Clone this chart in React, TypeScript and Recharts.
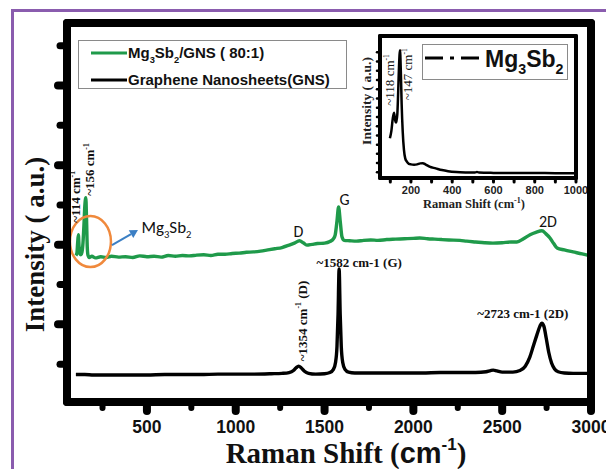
import React from "react";
import {
  LineChart,
  Line,
  XAxis,
  YAxis,
  ReferenceDot,
  Legend,
  Label,
} from "recharts";

const SERIF = '"Liberation Serif", "Times New Roman", serif';
const SANS = '"Liberation Sans", Arial, sans-serif';
const SOFT = 'Carlito, Lato, "Open Sans", sans-serif';
const GREEN = "#1f9a4a";

// [Raman shift (cm-1), intensity (a.u.)]
const compositeSpectrum: [number, number][] = [
  [100, 36.8], [106, 37.5], [110, 40], [114, 42], [118, 39], [123, 37.2], [128, 37.0],
  [134, 37.6], [140, 40], [146, 45], [150, 49], [156, 51.3], [160, 46], [164, 39],
  [168, 36.9], [175, 36.3], [190, 36.6], [210, 36.2], [240, 36.5], [270, 36.3],
  [300, 36.6], [340, 36.4], [380, 36.5], [420, 36.3], [460, 36.7], [500, 36.5],
  [540, 36.6], [580, 36.4], [620, 36.8], [660, 36.6], [700, 36.8], [740, 36.7],
  [780, 36.9], [820, 37.0], [860, 36.8], [900, 37.1], [940, 37.1], [980, 37.3],
  [1020, 37.4], [1060, 37.6], [1100, 37.7], [1140, 37.9], [1180, 38.2], [1220, 38.5],
  [1260, 38.8], [1300, 39.4], [1330, 39.9], [1359, 40.5], [1380, 40.0], [1400, 39.4],
  [1430, 39.6], [1460, 39.8], [1500, 39.9], [1530, 40.3], [1550, 41.0], [1560, 42],
  [1570, 45.5], [1579, 49.0], [1588, 45.5], [1598, 41.5], [1610, 40.6], [1641, 40.5],
  [1680, 40.4], [1720, 40.6], [1760, 40.7], [1800, 40.6], [1850, 40.8], [1900, 40.9],
  [1950, 41.0], [2000, 41.1], [2036, 41.2], [2080, 41.0], [2120, 40.9], [2160, 40.8],
  [2200, 40.7], [2262, 40.6], [2300, 40.4], [2350, 40.2], [2400, 40.0], [2448, 39.9],
  [2500, 40.0], [2550, 40.2], [2583, 40.2], [2620, 41.0], [2657, 42.0], [2690, 42.6],
  [2724, 43.0], [2745, 42.3], [2769, 41.2], [2790, 39.8], [2809, 38.7], [2850, 38.2],
  [2899, 37.7], [2950, 37.2], [2995, 36.7],
];

const gnsSpectrum: [number, number][] = [
  [100, 6.9], [150, 6.9], [200, 6.8], [300, 6.8], [400, 6.8], [500, 6.8], [600, 6.9],
  [700, 6.9], [800, 6.9], [900, 7.0], [1000, 7.0], [1100, 7.0], [1200, 7.1], [1260, 7.2],
  [1300, 7.4], [1325, 7.9], [1340, 8.6], [1354, 9.0], [1368, 8.6], [1385, 7.8],
  [1410, 7.2], [1450, 7.0], [1500, 7.1], [1530, 7.4], [1550, 8.2], [1562, 10],
  [1570, 14], [1576, 22], [1582, 33.4], [1588, 22], [1594, 14], [1602, 10], [1615, 8.2],
  [1635, 7.5], [1670, 7.3], [1750, 7.3], [1850, 7.3], [1950, 7.3], [2050, 7.3],
  [2150, 7.4], [2250, 7.4], [2350, 7.4], [2410, 7.6], [2435, 7.9], [2450, 8.0],
  [2470, 7.8], [2500, 7.5], [2560, 7.5], [2600, 7.9], [2630, 9.0], [2655, 11.2],
  [2675, 14.0], [2695, 16.8], [2712, 19.0], [2723, 19.8], [2735, 19.0], [2748, 16.0],
  [2762, 12.5], [2778, 9.8], [2795, 8.3], [2815, 7.6], [2850, 7.3], [2900, 7.2],
  [2950, 7.2], [3000, 7.2],
];

// inset: bare Mg3Sb2
const mg3sb2Spectrum: [number, number][] = [
  [98, 28], [105, 33], [112, 42], [118, 46], [123, 41], [128, 39], [134, 45], [138, 60],
  [142, 78], [147, 90], [151, 75], [155, 52], [160, 33], [166, 20], [172, 14],
  [180, 11.5], [190, 10], [200, 9.6], [215, 9.4], [230, 9.6], [245, 10.3], [258, 10.4],
  [270, 9.6], [290, 8.0], [320, 6.8], [350, 5.6], [380, 4.8], [420, 4.2], [470, 3.9],
  [510, 3.8], [520, 4.3], [530, 3.8], [600, 3.6], [700, 3.5], [800, 3.5], [900, 3.4],
  [1000, 3.4],
];

const legendOrder = ["Mg3Sb2/GNS ( 80:1)", "Graphene Nanosheets(GNS)"];

const mainTicksX = [250, 500, 750, 1000, 1250, 1500, 1750, 2000, 2250, 2500, 2750, 3000];
const mainTicksY = [9.5, 19.5, 29.5, 39.5, 49.5, 59.5, 69.5, 79.5, 89.5];
const insetTicksX = [100, 200, 300, 400, 500, 600, 700, 800, 900, 1000];
const insetTicksY = [4, 10.5, 17, 23.5, 30, 36.5, 43, 49.5, 56, 62.5, 69, 75.5, 82, 88.5];

const MAIN_X: [number, number] = [50, 3000];
const MAIN_Y: [number, number] = [0, 95.2];
const INSET_X: [number, number] = [50, 1000];
const INSET_Y: [number, number] = [0, 100];

const W = 606;
const H = 469;
const MAIN_MARGIN = { top: 23, right: 15, bottom: 27, left: 47 };
const MAIN_AXIS = { yWidth: 20, xHeight: 40 };
const INSET_MARGIN = { top: 36, right: 30, bottom: 261, left: 370 };
const INSET_AXIS = { yWidth: 10, xHeight: 30 };

const rows = (pts: [number, number][]) => pts.map(([shift, intensity]) => ({ shift, intensity }));

// digits that follow a letter become subscripts (Mg3Sb2)
function chem(text: string, size: number) {
  const parts: { t: string; sub: boolean }[] = [];
  for (let i = 0; i < text.length; i++) {
    const ch = text[i];
    const sub = /[0-9]/.test(ch) && i > 0 && /[A-Za-z]/.test(text[i - 1]);
    const last = parts[parts.length - 1];
    if (last && last.sub === sub) last.t += ch;
    else parts.push({ t: ch, sub });
  }
  let cur = 0;
  return parts.map((p, i) => {
    const target = p.sub ? size * 0.3 : 0;
    const dy = target - cur;
    cur = target;
    return (
      <tspan key={i} dy={dy} fontSize={p.sub ? size * 0.62 : size}>
        {p.t}
      </tspan>
    );
  });
}

// "~114 cm⁻¹ ..." with a raised -1
function wn(before: string, after: string, size: number) {
  return [
    <tspan key="a">{before}cm</tspan>,
    <tspan key="b" dy={-size * 0.4} fontSize={size * 0.6}>-1</tspan>,
    <tspan key="c" dy={size * 0.4}>{after}</tspan>,
  ];
}

function note(
  content: React.ReactNode,
  dx: number,
  dy: number,
  o: { rotate?: boolean; anchor?: "start" | "middle" | "end"; font?: string; size?: number; weight?: number } = {}
) {
  return (p: any) => (
    <text
      transform={`translate(${p.cx + dx},${p.cy + dy})${o.rotate ? " rotate(-90)" : ""}`}
      textAnchor={o.anchor || "start"}
      fontFamily={o.font || SERIF}
      fontSize={o.size || 13}
      fontWeight={o.weight ?? 700}
      fill="#111"
    >
      {content}
    </text>
  );
}

// heavy box round a plotting area as four filled strips, from the chart's own margins
function PlotBox({ m, a, w }: { m: typeof MAIN_MARGIN; a: typeof MAIN_AXIS; w: number }) {
  const left = m.left + a.yWidth;
  const top = m.top;
  const right = W - m.right;
  const bottom = H - m.bottom - a.xHeight;
  const strip = (l: number, t: number, ww: number, hh: number) => ({
    position: "absolute" as const,
    left: l,
    top: t,
    width: ww,
    height: hh,
    background: "#000",
    borderRadius: w / 2,
    pointerEvents: "none" as const,
  });
  return (
    <>
      <div style={strip(left - w / 2, top - w / 2, right - left + w, w)} />
      <div style={strip(left - w / 2, bottom - w / 2, right - left + w, w)} />
      <div style={strip(left - w / 2, top - w / 2, w, bottom - top + w)} />
      <div style={strip(right - w / 2, top - w / 2, w, bottom - top + w)} />
    </>
  );
}

const MainXTick = (props: any) => {
  const { x, y, payload } = props;
  const major = payload.value % 500 === 0;
  return (
    <g>
      <line x1={x} y1={y} x2={x} y2={y + (major ? 9 : 6)} stroke="#000" strokeWidth={major ? 8 : 6} strokeLinecap="round" />
      {major && (
        <text x={x} y={y + 31} textAnchor="middle" fontFamily={SANS} fontWeight={700} fontSize={17.5} fill="#111">
          {payload.value}
        </text>
      )}
    </g>
  );
};

const MainYTick = (props: any) => {
  const { x, y, index } = props;
  const major = index % 2 === 1;
  return (
    <line x1={x} y1={y} x2={x - (major ? 9 : 7)} y2={y} stroke="#000" strokeWidth={major ? 8 : 7} strokeLinecap="round" />
  );
};

const InsetXTick = (props: any) => {
  const { x, y, payload } = props;
  const labelled = payload.value % 200 === 0;
  return (
    <g>
      <line x1={x} y1={y} x2={x} y2={y + 4} stroke="#000" strokeWidth={3} strokeLinecap="round" />
      {labelled && (
        <text x={x} y={y + 16} textAnchor="middle" fontFamily={SANS} fontWeight={700} fontSize={11} fill="#222">
          {payload.value}
        </text>
      )}
    </g>
  );
};

const InsetYTick = (props: any) => {
  const { x, y } = props;
  return <line x1={x} y1={y} x2={x - 3} y2={y} stroke="#000" strokeWidth={2.5} strokeLinecap="round" />;
};

const MainLegend = (props: any) => {
  const items = (props.payload || [])
    .filter((it: any) => legendOrder.includes(it.value))
    .sort((a: any, b: any) => legendOrder.indexOf(a.value) - legendOrder.indexOf(b.value));
  return (
    <svg width={270} height={50} style={{ display: "block" }}>
      <rect x={0.5} y={0.5} width={268} height={48} fill="#fff" stroke="#8a8a8a" strokeWidth={1} />
      {items.map((it: any, i: number) => (
        <g key={i}>
          <line x1={13} x2={49} y1={13 + i * 27} y2={13 + i * 27} stroke={it.color} strokeWidth={3} />
          <text x={50} y={18 + i * 27} fontFamily={SANS} fontWeight={700} fontSize={15} fill="#111">
            {chem(String(it.value), 15)}
          </text>
        </g>
      ))}
    </svg>
  );
};

const InsetLegend = (props: any) => {
  const it = (props.payload || []).find((e: any) => e.value === "Mg3Sb2");
  if (!it) return null;
  return (
    <svg width={147} height={37} style={{ display: "block" }}>
      <rect x={0.5} y={0.5} width={145} height={35} fill="#fff" stroke="#8a8a8a" strokeWidth={1} />
      <line x1={3} x2={58} y1={14} y2={14} stroke="#000" strokeWidth={3} strokeDasharray="18 7 4 7" />
      <text x={63} y={23} fontFamily={SANS} fontWeight={700} fontSize={23} fill="#111">
        {chem(String(it.value), 23)}
      </text>
    </svg>
  );
};

const MainXTitle = (p: any) => {
  const vb = p.viewBox;
  return (
    <text x={vb.x + vb.width / 2 + 17} y={vb.y + 61} textAnchor="middle" fontFamily={SERIF} fontWeight={700} fontSize={29} fill="#111">
      Raman Shift (<tspan fontFamily={SANS}>cm</tspan>
      <tspan dy={-13} fontSize={17} fontFamily={SANS}>-1</tspan>
      <tspan dy={13}>)</tspan>
    </text>
  );
};

const MainYTitle = (p: any) => {
  const vb = p.viewBox;
  const cy = vb.y + vb.height / 2 + 32;
  return (
    <text transform={`translate(44,${cy}) rotate(-90)`} textAnchor="middle" fontFamily={SERIF} fontWeight={700} fontSize={27} fill="#111">
      Intensity ( a.u.)
    </text>
  );
};

const InsetXTitle = (p: any) => {
  const vb = p.viewBox;
  return (
    <text x={vb.x + vb.width / 2 - 4} y={vb.y + 30} textAnchor="middle" fontFamily={SERIF} fontWeight={700} fontSize={12.5} fill="#222">
      Raman Shift (cm<tspan dy={-5} fontSize={8}>-1</tspan>
      <tspan dy={5}>)</tspan>
    </text>
  );
};

const InsetYTitle = (p: any) => {
  const vb = p.viewBox;
  const cy = vb.y + vb.height / 2 - 6;
  return (
    <text transform={`translate(371,${cy}) rotate(-90)`} textAnchor="middle" fontFamily={SERIF} fontWeight={700} fontSize={13.5} fill="#222">
      Intensity ( a.u.)
    </text>
  );
};

// orange ring round the Mg3Sb2 peaks, arrow and label
const PeakCallout = (p: any) => {
  const { cx, cy } = p;
  const sx = cx + 21.5, sy = cy + 3.5;
  const tx = cx + 47.5, ty = cy - 11.5;
  const len = Math.hypot(tx - sx, ty - sy);
  const ux = (tx - sx) / len, uy = (ty - sy) / len;
  const bx = tx - ux * 8, by = ty - uy * 8;
  const nx = -uy, ny = ux;
  return (
    <g>
      <ellipse cx={cx} cy={cy} rx={20.5} ry={25.5} fill="none" stroke="#f0893c" strokeWidth={2.5} />
      <line x1={sx} y1={sy} x2={bx} y2={by} stroke="#3b7fc4" strokeWidth={2} />
      <polygon points={`${tx},${ty} ${bx + nx * 4.5},${by + ny * 4.5} ${bx - nx * 4.5},${by - ny * 4.5}`} fill="#3b7fc4" />
      <text x={cx + 51} y={cy - 8.5} fontFamily={SOFT} fontSize={17} fill="#111">
        {chem("Mg3Sb2", 17)}
      </text>
    </g>
  );
};

export default function App() {
  return (
    <div style={{ position: "absolute", left: 0, top: 0, width: W, height: H, overflow: "hidden", background: "#fff" }}>
      <div
        style={{
          position: "absolute",
          left: 11,
          top: 9,
          width: 700,
          height: 600,
          borderTop: "3px solid #8a5cae",
          borderLeft: "3px solid #8a5cae",
        }}
      />
      <div style={{ position: "absolute", left: 0, top: 0 }}>
        <LineChart width={W} height={H} margin={MAIN_MARGIN}>
          <XAxis
            dataKey="shift"
            type="number"
            domain={MAIN_X}
            ticks={mainTicksX}
            interval={0}
            height={MAIN_AXIS.xHeight}
            axisLine={false}
            tickLine={false}
            tickSize={0}
            tickMargin={0}
            tick={<MainXTick />}
          >
            <Label content={<MainXTitle />} />
          </XAxis>
          <YAxis
            type="number"
            domain={MAIN_Y}
            ticks={mainTicksY}
            interval={0}
            width={MAIN_AXIS.yWidth}
            axisLine={false}
            tickLine={false}
            tickSize={0}
            tickMargin={0}
            tick={<MainYTick />}
          >
            <Label content={<MainYTitle />} />
          </YAxis>
          <Line
            data={rows(compositeSpectrum)}
            dataKey="intensity"
            name="Mg3Sb2/GNS ( 80:1)"
            type="monotone"
            stroke={GREEN}
            strokeWidth={3.4}
            dot={false}
            isAnimationActive={false}
          />
          <Line
            data={rows(gnsSpectrum)}
            dataKey="intensity"
            name="Graphene Nanosheets(GNS)"
            type="monotone"
            stroke="#000"
            strokeWidth={3.4}
            dot={false}
            isAnimationActive={false}
          />
          <ReferenceDot x={182} y={40.3} r={0} ifOverflow="visible" shape={PeakCallout} />
          <ReferenceDot x={114} y={42} r={0} ifOverflow="visible" shape={note(wn("~114 ", "", 13), 2, -12, { rotate: true })} />
          <ReferenceDot x={156} y={51.3} r={0} ifOverflow="visible" shape={note(wn("~156 ", "", 13), 8, -2, { rotate: true })} />
          <ReferenceDot x={1359} y={40.5} r={0} ifOverflow="visible" shape={note("D", -1, -4, { anchor: "middle", font: SOFT, size: 16, weight: 400 })} />
          <ReferenceDot x={1579} y={49} r={0} ifOverflow="visible" shape={note("G", 6, -2, { anchor: "middle", font: SOFT, size: 16, weight: 400 })} />
          <ReferenceDot x={2724} y={43} r={0} ifOverflow="visible" shape={note("2D", 6, -4, { anchor: "middle", font: SOFT, size: 16, weight: 400 })} />
          <ReferenceDot x={1354} y={9} r={0} ifOverflow="visible" shape={note(wn("~1354 ", " (D)", 13), 8, -5, { rotate: true })} />
          <ReferenceDot x={1582} y={33.4} r={0} ifOverflow="visible" shape={note("~1582 cm-1 (G)", 20, -2, { anchor: "middle" })} />
          <ReferenceDot x={2723} y={19.8} r={0} ifOverflow="visible" shape={note("~2723 cm-1 (2D)", -19, -5, { anchor: "middle" })} />
          <Legend
            layout="horizontal"
            verticalAlign="middle"
            align="center"
            content={<MainLegend />}
            wrapperStyle={{ left: 78, top: 40, width: 270, height: 50 }}
          />
        </LineChart>
      </div>
      <div style={{ position: "absolute", left: 0, top: 0 }}>
        <LineChart width={W} height={H} margin={INSET_MARGIN}>
          <XAxis
            dataKey="shift"
            type="number"
            domain={INSET_X}
            ticks={insetTicksX}
            interval={0}
            height={INSET_AXIS.xHeight}
            axisLine={false}
            tickLine={false}
            tickSize={0}
            tickMargin={0}
            tick={<InsetXTick />}
          >
            <Label content={<InsetXTitle />} />
          </XAxis>
          <YAxis
            type="number"
            domain={INSET_Y}
            ticks={insetTicksY}
            interval={0}
            width={INSET_AXIS.yWidth}
            axisLine={false}
            tickLine={false}
            tickSize={0}
            tickMargin={0}
            tick={<InsetYTick />}
          >
            <Label content={<InsetYTitle />} />
          </YAxis>
          <Line
            data={rows(mg3sb2Spectrum)}
            dataKey="intensity"
            name="Mg3Sb2"
            type="monotone"
            stroke="#000"
            strokeWidth={2.5}
            dot={false}
            isAnimationActive={false}
          />
          <ReferenceDot x={118} y={46} r={0} ifOverflow="visible" shape={note(wn("~118 ", "", 12.5), 0, -7, { rotate: true, weight: 400 })} />
          <ReferenceDot x={147} y={90} r={0} ifOverflow="visible" shape={note(wn("~147 ", "", 12.5), 12, 50, { rotate: true, weight: 400 })} />
          <Legend
            layout="horizontal"
            verticalAlign="middle"
            align="center"
            content={<InsetLegend />}
            wrapperStyle={{ left: 422, top: 44, width: 147, height: 37 }}
          />
        </LineChart>
      </div>
      <PlotBox m={MAIN_MARGIN} a={MAIN_AXIS} w={8} />
      <PlotBox m={INSET_MARGIN} a={INSET_AXIS} w={4.5} />
    </div>
  );
}
